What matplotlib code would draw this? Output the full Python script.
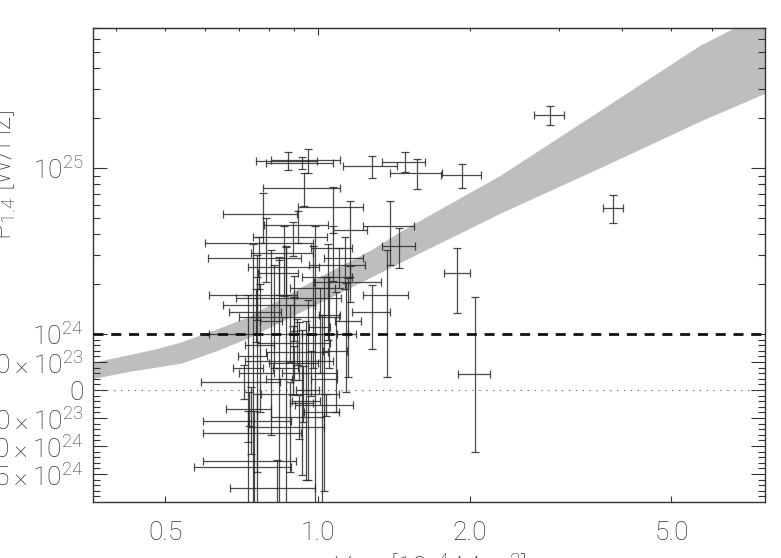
import numpy as np
import matplotlib
matplotlib.use("Agg")
import matplotlib.pyplot as plt
from matplotlib.ticker import FixedLocator, NullLocator, NullFormatter

plt.rcParams["font.family"] = ["Roboto", "DejaVu Sans"]
plt.rcParams["font.weight"] = "light"
plt.rcParams["mathtext.fontset"] = "custom"
plt.rcParams["mathtext.rm"] = "Roboto:light"
plt.rcParams["mathtext.default"] = "rm"

# Y_500 [1e-4 Mpc^2] and P_1.4 [1e24 W/Hz] with symmetric errors
y500 = [2.875, 3.84, 1.93, 1.572, 1.488, 1.28, 0.875, 0.957, 0.93, 1.888,
        2.045, 0.942, 1.07, 0.78, 1.39, 1.45, 1.16, 1.37, 1.28,
        0.79, 0.767, 0.895, 0.914, 1.07, 1.13, 0.866, 0.84, 1.157, 0.76,
        0.90, 0.756, 0.90, 0.88, 0.91, 0.92, 0.895, 0.90, 0.715, 0.936,
        1.04, 0.733, 0.918, 0.739, 0.88, 0.76, 0.75, 0.727, 0.83,
        0.745, 0.76, 0.81, 0.84, 0.865, 0.99, 0.93, 0.95, 0.955, 1.03,
        0.73, 0.77, 1.085, 1.14, 1.15, 1.055, 1.01,
        1.05, 0.98, 1.10, 0.86, 0.82, 1.02, 0.97]
y500_err = [0.195, 0.175, 0.175, 0.185, 0.145, 0.157, 0.12, 0.149, 0.14, 0.115,
            0.15, 0.163, 0.157, 0.13, 0.16, 0.11, 0.09, 0.14, 0.11,
            0.19, 0.16, 0.15, 0.132, 0.10, 0.10, 0.139, 0.076, 0.175, 0.15,
            0.21, 0.089, 0.20, 0.27, 0.15, 0.13, 0.175, 0.10, 0.127, 0.164,
            0.137, 0.075, 0.11, 0.146, 0.15, 0.166, 0.155, 0.158, 0.16,
            0.05, 0.06, 0.04, 0.05, 0.05, 0.06, 0.05, 0.06, 0.05, 0.06,
            0.05, 0.05, 0.06, 0.05, 0.07, 0.05, 0.05,
            0.12, 0.10, 0.14, 0.12, 0.17, 0.08, 0.12]
p14 = [20.9, 5.77, 9.1, 9.4, 10.97, 10.25, 11.1, 11.15, 10.8, 2.32,
       0.28, 7.6, 5.87, 5.3, 4.47, 3.42, 4.27, 1.72, 1.35,
       3.53, 2.87, 3.84, 4.53, 3.29, 2.87, 2.53, 2.33, 2.06, 1.72,
       1.65, 1.36, 1.27, 1.0, 0.84, 0.68, 0.52, 0.48, 0.14, -0.07,
       -0.27, -0.34, -0.48, -0.55, -0.66, -0.77, -1.27, -1.37, -1.75,
       0.6, 0.3, 1.2, 0.2, 0.4, 1.0, -0.23, -0.2, 0.0, 0.2,
       0.4, 0.8, 0.7, 1.0, 1.2, 1.3, 1.1,
       2.2, 1.9, 2.6, 3.1, 1.5, -0.4, 0.3]
p14_err = [2.7, 1.11, 1.45, 1.93, 1.5, 1.55, 1.38, 1.85, 0.9, 0.98,
           1.39, 1.7, 1.81, 1.77, 1.87, 0.93, 2.07, 1.49, 0.62,
           1.47, 1.0, 0.9, 1.0, 1.2, 1.0, 0.8, 0.6, 0.5, 0.5,
           0.6, 0.5, 0.4, 0.5, 0.4, 0.5, 0.6, 0.3, 0.3, 0.5,
           0.2, 0.3, 0.4, 0.6, 0.8, 0.7, 0.9, 1.0, 0.5,
           2.9, 2.7, 2.0, 2.6, 3.0, 3.5, 1.29, 1.4, 1.6, 2.0,
           1.33, 1.2, 1.1, 1.04, 0.97, 0.9, 0.8,
           1.3, 1.5, 0.7, 1.4, 1.1, 1.7, 0.4]

# fit band edges [1e24 W/Hz]
band_x = [0.361, 0.428, 0.48, 0.537, 0.63, 0.728, 1.014, 1.272, 1.458, 2.295,
          3.62, 5.69, 7.65]
band_hi = [0.50, 0.64, 0.74, 0.86, 1.07, 1.27, 2.24, 3.21, 4.17, 9.07,
           22.4, 55.1, 87.0]
band_lo = [0.21, 0.34, 0.41, 0.48, 0.70, 0.93, 1.56, 2.20, 2.71, 5.36,
           10.1, 19.2, 28.3]

E24 = 1e24
K = 166.0 / 56.0   # px per decade / px per 1e24


def fwd(v):
    v = np.asarray(v, dtype=float)
    with np.errstate(divide="ignore", invalid="ignore"):
        lg = 1 + K * np.log10(np.maximum(v, E24) / E24)
    return np.where(v > E24, lg, v / E24)


def inv(u):
    u = np.asarray(u, dtype=float)
    return np.where(u > 1, E24 * 10 ** ((u - 1) / K), u * E24)


fig = plt.figure(figsize=(7.81, 5.58), dpi=100)
ax = fig.add_axes([93 / 781, 56 / 558, 672 / 781, 474 / 558])
ax.set_xscale("log")
ax.set_yscale("function", functions=(fwd, inv))

ax.fill_between(band_x, np.array(band_lo) * E24, np.array(band_hi) * E24,
                color="#bebebe", lw=0, zorder=1)
ax.errorbar(y500, np.array(p14) * E24, xerr=y500_err, yerr=np.array(p14_err) * E24,
            fmt="none", ecolor="#2a2a2a", elinewidth=0.9, capsize=3,
            capthick=0.9, alpha=0.85, zorder=3)
ax.axhline(E24, color="#111111", lw=2, dashes=(3.6, 2.8), zorder=4)
ax.axhline(0, color="#666666", lw=0.8, ls=(0, (1.2, 5)), zorder=2)

ax.set_xlim(0.36, 7.65)
ax.set_ylim(-2e24, 7e25)

tc = "#333333"
fs = 19
ax.set_xticks([0.5, 1.0, 2.0, 5.0], ["0.5", "1.0", "2.0", "5.0"])
ax.xaxis.set_minor_locator(NullLocator())
ax.tick_params(axis="x", which="major", direction="in", top=False, length=4.3,
               width=0.8, pad=14, labelsize=fs, labelcolor=tc, color=tc)

ymaj = [-1.5e24, -1e24, -5e23, 0, 5e23, 1e24, 1e25]
ylab = [r"$-1.5\times10^{24}$", r"$-1.0\times10^{24}$", r"$-5.0\times10^{23}$", "0",
        r"$5.0\times10^{23}$", r"$10^{24}$", r"$10^{25}$"]
ax.set_yticks(ymaj, ylab)
ymin = [i * 1e23 for i in range(-20, 10) if i % 5 != 0]
ymin += [i * 1e24 for i in range(2, 10)] + [i * 1e25 for i in range(2, 8)]
ax.yaxis.set_minor_locator(FixedLocator(ymin))
ax.yaxis.set_minor_formatter(NullFormatter())
ax.tick_params(axis="y", which="both", direction="in", left=True, right=True,
               labelsize=fs, labelcolor=tc, color=tc, pad=7)
ax.tick_params(axis="y", which="major", length=10, width=0.8)
ax.tick_params(axis="y", which="minor", length=5, width=0.8)

top = ax.secondary_xaxis("top")
top.set_xticks([1.0])
top.set_xticklabels([])
top.xaxis.set_minor_locator(FixedLocator([0.4, 0.5, 0.6, 0.7, 0.8, 0.9, 2, 3, 4, 5, 6, 7]))
top.xaxis.set_minor_formatter(NullFormatter())
top.tick_params(which="major", direction="in", length=5, width=0.8, color=tc)
top.tick_params(which="minor", direction="in", length=2.2, width=0.8, color=tc)
top.spines["top"].set_color(tc)

for s in ax.spines.values():
    s.set_color(tc)
    s.set_linewidth(1)

fig.text(0.551, -0.034, r"Y$_{500}$ [10$^{-4}$ Mpc$^{2}$]", ha="center",
         va="baseline", fontsize=20, color=tc)
fig.text(0.015, 1 - 175 / 558, r"P$_{1.4}$ [W/Hz]", ha="center", va="baseline",
         rotation=90, rotation_mode="anchor", fontsize=20, color=tc)

fig.savefig("out.png", dpi=100)
